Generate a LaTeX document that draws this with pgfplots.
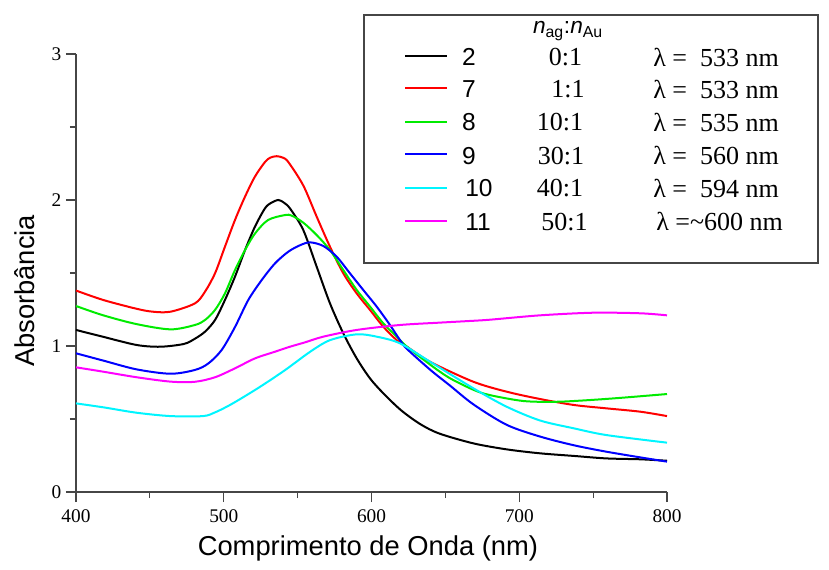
\documentclass[border=0pt]{standalone}
\usepackage{pgfplots}
\pgfplotsset{compat=1.18}
\usepackage{fontspec}
\setmainfont{Liberation Sans}
\newfontfamily\tnr{Liberation Serif}

\definecolor{axgray}{RGB}{70,70,70}
\definecolor{cgreen}{RGB}{0,235,0}
\definecolor{ccyan}{RGB}{0,245,255}
\definecolor{cmag}{RGB}{255,0,255}
\definecolor{cred}{RGB}{255,0,0}
\definecolor{cblue}{RGB}{0,0,255}

\begin{document}
\begin{tikzpicture}
% pixel grid of the reference: 1 px = 0.75pt, origin at the axis corner
\begin{scope}[x=0.75pt,y=-0.75pt,shift={(-57pt,369pt)}]
  \useasboundingbox (0,0) rectangle (829,569);
\end{scope}

\begin{axis}[
    scale only axis,
    width=443.25pt, height=328.5pt,
    xmin=400, xmax=800, ymin=0, ymax=3,
    axis lines=left,
    axis line style={axgray, line width=1.1pt, -},
    xtick={400,500,600,700,800},
    ytick={0,1,2,3},
    minor xtick={450,550,650,750},
    minor ytick={0.5,1.5,2.5},
    tick align=outside,
    major tick length=7.5pt,
    minor tick length=4.5pt,
    every tick/.style={axgray, line width=0.9pt},
    tick label style={font=\tnr\fontsize{14.5}{17}\selectfont},
    xticklabel style={yshift=-2.5pt},
    /pgf/number format/assume math mode=true,
    xlabel={Comprimento de Onda (nm)},
    ylabel={Absorbância},
    label style={font=\fontsize{20.5}{24}\selectfont},
    xlabel style={at={(axis description cs:0.494,-0.128)}, anchor=center},
    ylabel style={at={(axis description cs:-0.0863,0.459)}, anchor=center},
    every axis plot/.append style={line width=1.5pt, smooth},
]

% 2 (0:1)
\addplot[black] coordinates {
(400,1.11) (418,1.064) (441,1.007) (457,0.995) (473,1.014) (480.5,1.05)
(487.3,1.098) (494.1,1.178) (500.8,1.315) (507.6,1.475) (514.4,1.657)
(521.1,1.817) (527.9,1.943) (532,1.98) (537,2.00) (541,1.98) (545,1.94)
(553.8,1.795) (562.9,1.543) (571.9,1.292) (580.9,1.087) (590,0.915)
(599,0.778) (608,0.676) (620,0.56) (633,0.465) (646,0.40) (669,0.333)
(691.5,0.292) (714,0.265) (737,0.247) (759,0.23) (782,0.224) (800,0.214)
};

% 7 (1:1)
\addplot[cred] coordinates {
(400,1.38) (418.5,1.315) (441,1.255) (452,1.235) (464,1.235) (480.5,1.292)
(487.3,1.372) (494.1,1.498) (500.8,1.68) (507.6,1.863) (514.4,2.023)
(521.1,2.16) (527.9,2.26) (531.5,2.29) (535.8,2.30) (540,2.29)
(543.7,2.26) (553.8,2.10) (562.9,1.886) (571.9,1.68) (580.9,1.498)
(590,1.36) (599,1.247) (608,1.132) (617.1,1.04) (624,0.995) (640,0.89)
(669,0.755) (691.5,0.687) (714,0.637) (737,0.596) (759,0.573) (782,0.55)
(800,0.52)
};

% 8 (10:1)
\addplot[cgreen] coordinates {
(400,1.274) (418.5,1.21) (441,1.15) (464,1.114) (480.5,1.144) (487.3,1.178)
(494.1,1.247) (500.8,1.36) (507.6,1.52) (514.4,1.657) (521.1,1.77)
(530,1.863) (541.5,1.897) (546,1.893) (553.8,1.845) (562.9,1.76)
(571.9,1.657) (580.9,1.52) (590,1.384) (599,1.27) (608,1.155)
(617.1,1.064) (624,0.995) (640,0.87) (653,0.78) (669,0.70) (680,0.664)
(703,0.623) (725,0.618) (748,0.63) (770,0.646) (800,0.671)
};

% 9 (30:1)
\addplot[cblue] coordinates {
(400,0.95) (418.5,0.90) (441,0.84) (464,0.81) (480.5,0.836) (489.5,0.88)
(498.6,0.973) (507.6,1.13) (516.6,1.315) (525.7,1.452) (534.7,1.566)
(543.7,1.646) (551.6,1.69) (558.4,1.71) (567.4,1.685) (576.4,1.612)
(585.4,1.498) (594.4,1.384) (603.5,1.27) (612.5,1.144) (619.3,1.04)
(624,0.98) (640,0.835) (653,0.73) (669,0.60) (691.5,0.46) (714,0.38)
(737,0.32) (759,0.276) (782,0.237) (800,0.208)
};

% 10 (40:1)
\addplot[ccyan] coordinates {
(400,0.607) (418.5,0.58) (441,0.543) (464,0.52) (486,0.52) (494,0.545)
(502,0.584) (510,0.63) (524.5,0.72) (541.5,0.835) (558.4,0.96)
(571.9,1.04) (590,1.08) (603.5,1.064) (619.3,1.018) (640,0.89)
(669,0.71) (691.5,0.584) (714,0.49) (737,0.436) (759,0.39) (800,0.338)
};

% 11 (50:1)
\addplot[cmag] coordinates {
(400,0.854) (418.5,0.824) (441,0.786) (464,0.756) (480.5,0.755)
(494.1,0.786) (507.6,0.847) (521.1,0.915) (534.7,0.961) (544.8,0.995)
(555,1.025) (567.4,1.064) (590,1.11) (619.3,1.144) (646,1.16) (664,1.17)
(680,1.18) (714,1.21) (750,1.228) (782,1.224) (800,1.21)
};

\end{axis}

% legend box, drawn in pixel coordinates
\begin{scope}[x=0.75pt,y=-0.75pt,shift={(-57pt,369pt)}]
  \draw[axgray, line width=1.1pt, fill=white] (364,15) rectangle (818,263);
  \node[font=\fontsize{17}{20}\selectfont] at (568,31)
    {\itshape n\textsubscript{\upshape ag}\upshape:\itshape n\textsubscript{\upshape Au}};

  \draw[black,  line width=1.5pt] (405,55.7)  -- (447,55.7);
  \draw[cred,   line width=1.5pt] (405,87.7)  -- (447,87.7);
  \draw[cgreen, line width=1.5pt] (405,121.7) -- (447,121.7);
  \draw[cblue,  line width=1.5pt] (405,154)   -- (447,154);
  \draw[ccyan,  line width=1.5pt] (405,187.7) -- (447,187.7);
  \draw[cmag,   line width=1.5pt] (405,220.7) -- (447,220.7);

  \begin{scope}[every node/.style={font=\fontsize{18.4}{22}\selectfont, inner sep=0}]
    \node at (469,57.3)  {2};
    \node at (469,89)    {7};
    \node at (469,122)   {8};
    \node at (469,155.7) {9};
    \node at (479,188)   {10};
    \node at (478,221.7) {11};
  \end{scope}

  \begin{scope}[every node/.style={font=\tnr\fontsize{19.5}{23}\selectfont, inner sep=0}]
    \node at (565.5,57.3) {0:1};
    \node at (568,89)     {1:1};
    \node at (560,122)    {10:1};
    \node at (561,155.7)  {30:1};
    \node at (560,188)    {40:1};
    \node at (564.5,221.7){50:1};
    \node[anchor=west] at (653,57.3)  {λ =\ \ 533 nm};
    \node[anchor=west] at (653,89)    {λ =\ \ 533 nm};
    \node[anchor=west] at (653,122)   {λ =\ \ 535 nm};
    \node[anchor=west] at (653,155.7) {λ =\ \ 560 nm};
    \node[anchor=west] at (653,188)   {λ =\ \ 594 nm};
    \node[anchor=west] at (656,221.7) {λ =\textasciitilde600 nm};
  \end{scope}
\end{scope}
\end{tikzpicture}
\end{document}
